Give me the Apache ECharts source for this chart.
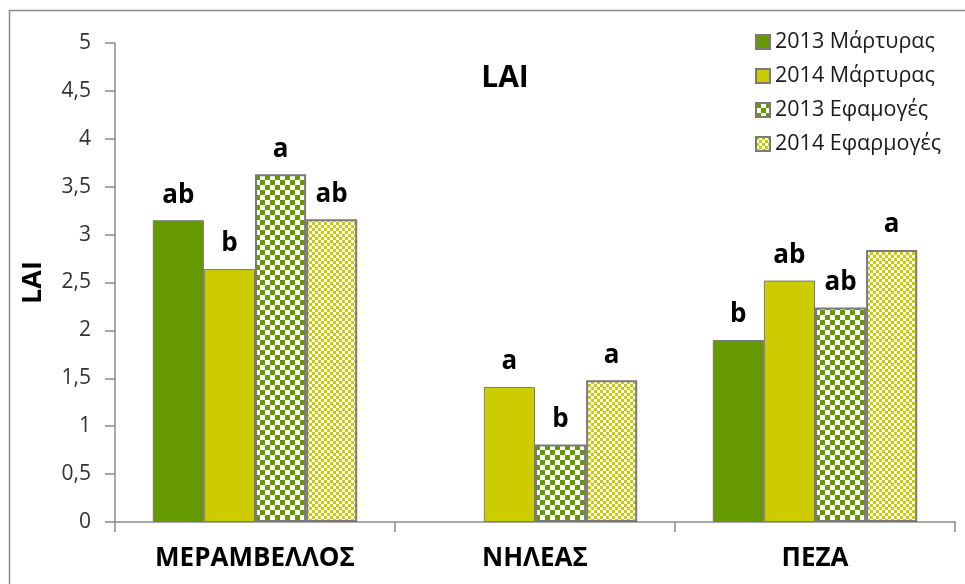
<!DOCTYPE html>
<html>
<head>
<meta charset="utf-8">
<script src="https://cdn.jsdelivr.net/npm/echarts@6/dist/echarts.min.js"></script>
<style>html,body{margin:0;padding:0;background:#fff;}#c{width:965px;height:584px;}</style>
</head>
<body>
<div id="c"></div>
<script>
const categories = ['ΜΕΡΑΜΒΕΛΛΟΣ', 'ΝΗΛΕΑΣ', 'ΠΕΖΑ'];
const seriesNames = ['2013 Μάρτυρας', '2014 Μάρτυρας', '2013 Εφαμογές', '2014 Εφαρμογές'];
const m2013 = [3.15, null, 1.90];
const m2014 = [2.64, 1.41, 2.52];
const e2013 = [3.63, 0.81, 2.24];
const e2014 = [3.16, 1.48, 2.84];
const m2013Letters = ['ab', '', 'b'];
const m2014Letters = ['b', 'a', 'ab'];
const e2013Letters = ['a', 'b', 'ab'];
const e2014Letters = ['ab', 'a', 'a'];
const yTicks = ['0', '0,5', '1', '1,5', '2', '2,5', '3', '3,5', '4', '4,5', '5'];

function checker(c1, c2, s) {
  const cv = document.createElement('canvas');
  cv.width = cv.height = s * 2;
  const ctx = cv.getContext('2d');
  ctx.fillStyle = c2; ctx.fillRect(0, 0, s * 2, s * 2);
  ctx.fillStyle = c1; ctx.fillRect(0, 0, s, s); ctx.fillRect(s, s, s, s);
  return cv;
}
const GREEN = '#669900', YELLOW = '#cccc00';
const greenCheck = { image: checker(GREEN, '#ffffff', 5), repeat: 'repeat' };
const yellowCheck = { image: checker(YELLOW, '#ffffff', 3), repeat: 'repeat' };

const FONT = 'Open Sans';
function mk(name, data, letters, color, bw) {
  return {
    name: name, type: 'bar', data: data,
    barGap: 0, barCategoryGap: '27%',
    itemStyle: { color: color, borderColor: '#7a7a7a', borderWidth: bw },
    label: {
      show: true, position: 'top', distance: 12,
      fontFamily: FONT, fontWeight: 'bold', fontSize: 26, color: '#000',
      formatter: p => letters[p.dataIndex]
    }
  };
}
const chart = echarts.init(document.getElementById('c'), null, { renderer: 'canvas' });
chart.setOption({
  animation: false,
  backgroundColor: '#fff',
  graphic: [{ type: 'rect', shape: { x: 9.5, y: 10.5, width: 1000, height: 1000 }, style: { fill: 'none', stroke: '#8c8c8c', lineWidth: 1.5 }, z: -1 }],
  title: { text: 'LAI', left: 500, top: 58, textAlign: 'center', textStyle: { fontFamily: FONT, fontWeight: 'bold', fontSize: 30, color: '#000' } },
  legend: {
    orient: 'vertical', left: 750, top: 26, itemWidth: 14, itemHeight: 14, itemGap: 12,
    icon: 'rect',
    textStyle: { fontFamily: FONT, fontSize: 21.5, color: '#1a1a1a', padding: [0, 0, 0, 0] },
    data: seriesNames
  },
  grid: { left: 115, right: 10, top: 43, bottom: 62 },
  xAxis: {
    type: 'category', data: categories,
    axisLine: { lineStyle: { color: '#8c8c8c', width: 1.5 } },
    axisTick: { show: true, length: 10, lineStyle: { color: '#8c8c8c', width: 1.5 } },
    axisLabel: { margin: 24, fontFamily: FONT, fontWeight: 'bold', fontSize: 26, color: '#000' }
  },
  yAxis: {
    type: 'value', min: 0, max: 5, interval: 0.5,
    name: 'LAI', nameLocation: 'middle', nameGap: 68, nameRotate: 90,
    nameTextStyle: { fontFamily: FONT, fontWeight: 'bold', fontSize: 27, color: '#000' },
    axisLine: { show: true, lineStyle: { color: '#8c8c8c', width: 1.5 } },
    axisTick: { show: true, length: 10, lineStyle: { color: '#8c8c8c', width: 1.5 } },
    splitLine: { show: false },
    axisLabel: { margin: 24, fontFamily: FONT, fontSize: 21, color: '#333', formatter: v => yTicks[Math.round(v * 2)] }
  },
  series: [
    mk(seriesNames[0], m2013, m2013Letters, GREEN, 1),
    mk(seriesNames[1], m2014, m2014Letters, YELLOW, 1),
    mk(seriesNames[2], e2013, e2013Letters, greenCheck, 2),
    mk(seriesNames[3], e2014, e2014Letters, yellowCheck, 2)
  ]
});
</script>
</body>
</html>
